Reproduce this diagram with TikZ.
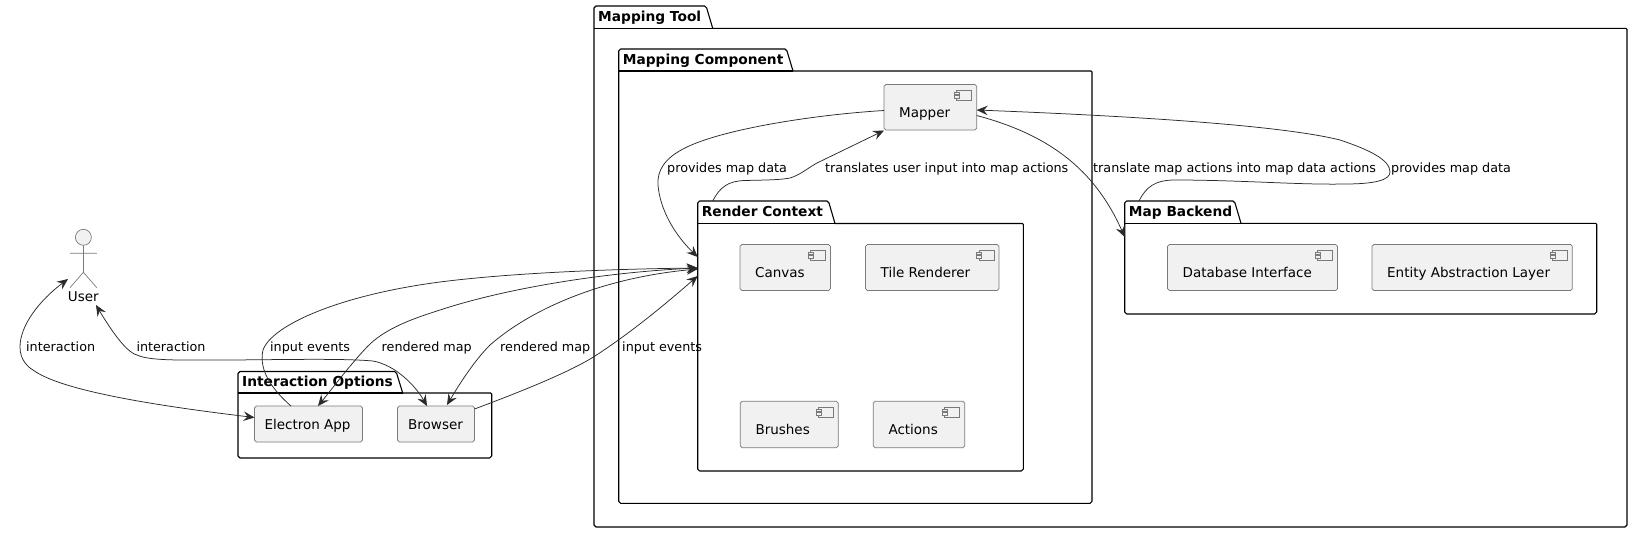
\documentclass[tikz,border=0pt]{standalone}
\usepackage{fontspec}
\setmainfont{DejaVu Sans}
\usetikzlibrary{arrows.meta,calc}
\definecolor{boxfill}{HTML}{F1F1F1}
\definecolor{boxline}{HTML}{7A7A7A}
\definecolor{conn}{HTML}{2B2B2B}
\newcommand{\pkg}[8]{% name, title, left, tabtop, tabright, bodytop, right, bottom
  \draw[pkgline] (#3,#6) -- (#3,#4+2) -- (#3+2,#4) -- (#5-8,#4) -- (#5-6,#4+2) -- (#5,#6) -- (#7-1,#6) -- (#7,#6+1) -- (#7,#8-2) -- (#7-2,#8) -- (#3+2,#8) -- (#3,#8-2) -- cycle;
  \draw[pkgline] (#3,#6) -- (#5,#6);
  \node[pkgtitle] (#1) at (#3+4,#4+15) {#2};
}
\newcommand{\compicon}[2]{%
  \draw[boxline,fill=boxfill,line width=.6pt] (#1-20,#2-5) rectangle (#1-5,#2+5);
  \draw[boxline,fill=boxfill,line width=.6pt] (#1-22.5,#2-3) rectangle (#1-17.5,#2-.5);
  \draw[boxline,fill=boxfill,line width=.6pt] (#1-22.5,#2+.5) rectangle (#1-17.5,#2+3);
}
\tikzset{x=1pt,y=-1pt,
  pkgline/.style={draw=black,line width=1.1pt,line join=round},
  pkgtitle/.style={anchor=base west,font=\fontsize{13.75}{16}\selectfont\bfseries,inner sep=0pt,text=black},
  boxstyle/.style={draw=boxline,fill=boxfill,rounded corners=1.8pt,line width=.7pt},
  boxtext/.style={anchor=base west,font=\fontsize{13.5}{16}\selectfont,inner sep=0pt,text=black},
  lbl/.style={anchor=base west,font=\fontsize{12.75}{15}\selectfont,inner sep=0pt,text=black},
  arr/.style={draw=conn,line width=.75pt,-{Stealth[length=11pt,width=9.5pt,inset=4pt]}},
  arrb/.style={draw=conn,line width=.75pt,{Stealth[length=11pt,width=9.5pt,inset=4pt]}-{Stealth[length=11pt,width=9.5pt,inset=4pt]}},
}
\begin{document}
\begin{tikzpicture}
\useasboundingbox (0,0) rectangle (1634,533);
\fill[white] (0,0) rectangle (1634,533);
% packages
\pkg{tool}{Mapping Tool}{594}{6}{712.7}{28.3}{1627}{527}
\pkg{comp}{Mapping Component}{618.7}{49}{793}{71}{1092}{503.3}
\pkg{ctx}{Render Context}{697.7}{201}{835}{223.5}{1023.3}{471}
\pkg{back}{Map Backend}{1124.7}{201}{1241}{223.3}{1596.7}{314}
\pkg{opts}{Interaction Options}{238}{371.5}{402.7}{393}{491.7}{458}
% components
\newcommand{\comp}[6]{%
  \path[boxstyle] (#3,#5) rectangle (#4,#6);
  \node[boxtext] (#1) at (#3+15,#5+33) {#2};
  \compicon{#4}{#5+10.5}
}
\comp{mapper}{Mapper}{884}{976.7}{84.5}{130}
\comp{canvas}{Canvas}{740}{830.5}{244.5}{290.5}
\comp{tile}{Tile Renderer}{865.5}{999}{244.5}{290.5}
\comp{brushes}{Brushes}{740.3}{838.3}{401.3}{447.7}
\comp{actions}{Actions}{873.3}{964.7}{401.3}{447.7}
\comp{db}{Database Interface}{1167.5}{1337.5}{244.5}{290.5}
\comp{entity}{Entity Abstraction Layer}{1372}{1572.3}{244.5}{290.5}
\path[boxstyle] (254.5,406) rectangle (362.5,442);
\node[boxtext] (electron) at (264.3,429.3) {Electron App};
\path[boxstyle] (397.5,406) rectangle (474.5,442);
\node[boxtext] (browser) at (408,429.3) {Browser};
% actor
\coordinate (act) at (83.4,237.3);
\draw[boxline,fill=boxfill,line width=.7pt] (act) circle (8);
\draw[boxline,line width=.7pt] (83.4,245.3) -- (83.4,272.3) (70,253.3) -- (96.8,253.3) (70,287.7) -- (83.4,272.3) -- (96.8,287.7);
\node[boxtext,anchor=base] (user) at (83.3,301.7) {User};
% connectors
\draw[arrb] (68,279) .. controls (40,300) and (20,325) .. (20,347) .. controls (20,360) and (28,367) .. (33,370) .. controls (60,390) and (150,405) .. (254.5,417.5);
\draw[arrb] (96,305) .. controls (108,325) and (125,352) .. (137,355) .. controls (150,361) and (180,360) .. (220,360) .. controls (270,360) and (340,358) .. (373,361) .. controls (395,365) and (415,385) .. (427,406);
\draw[arr] (291,406) .. controls (275,392) and (258,372) .. (263,350) .. controls (272,325) and (340,295) .. (440,282) .. controls (510,273) and (610,269) .. (697.7,268);
\draw[arrb] (318,406) .. controls (335,385) and (350,365) .. (367,347) .. controls (385,328) and (415,318) .. (440,310) .. controls (510,287) and (610,272) .. (697.7,268);
\draw[arrb] (447,405) .. controls (460,383) and (475,360) .. (490,345) .. controls (530,310) and (600,278) .. (697.7,269);
\draw[arr] (474.5,409) .. controls (520,392) and (570,372) .. (595,356) .. controls (635,330) and (670,300) .. (697.7,276);
\draw[arr] (884,110.5) .. controls (810,115) and (720,130) .. (685,148) .. controls (665,158) and (657,170) .. (658,185) .. controls (660,210) and (675,235) .. (697.7,257);
\draw[arr] (712.7,201) .. controls (720,187) and (728,181) .. (745,180.5) .. controls (765,180) and (780,180) .. (790,178) .. controls (800,175) and (808,168) .. (817,163) -- (884,130.5);
\draw[arr] (976.7,115.5) .. controls (1050,135) and (1095,170) .. (1124.7,237);
\draw[arr] (1139,201) .. controls (1146,187) and (1155,180) .. (1175,180) .. controls (1240,180) and (1300,185) .. (1345,184) .. controls (1375,184) and (1390,180) .. (1390,172) .. controls (1390,160) and (1370,150) .. (1340,140) .. controls (1280,125) and (1130,116) .. (976.7,110);
% labels
\node[lbl] at (26,351) {interaction};
\node[lbl] at (136.3,351) {interaction};
\node[lbl] at (270,351) {input events};
\node[lbl] at (381.5,351) {rendered map};
\node[lbl] at (500,351) {rendered map};
\node[lbl] at (622,351) {input events};
\node[lbl] at (667,172.7) {provides map data};
\node[lbl] at (825,172.7) {translates user input into map actions};
\node[lbl] at (1093,172.7) {translate map actions into map data actions};
\node[lbl] at (1391,172.7) {provides map data};
\end{tikzpicture}
\end{document}
